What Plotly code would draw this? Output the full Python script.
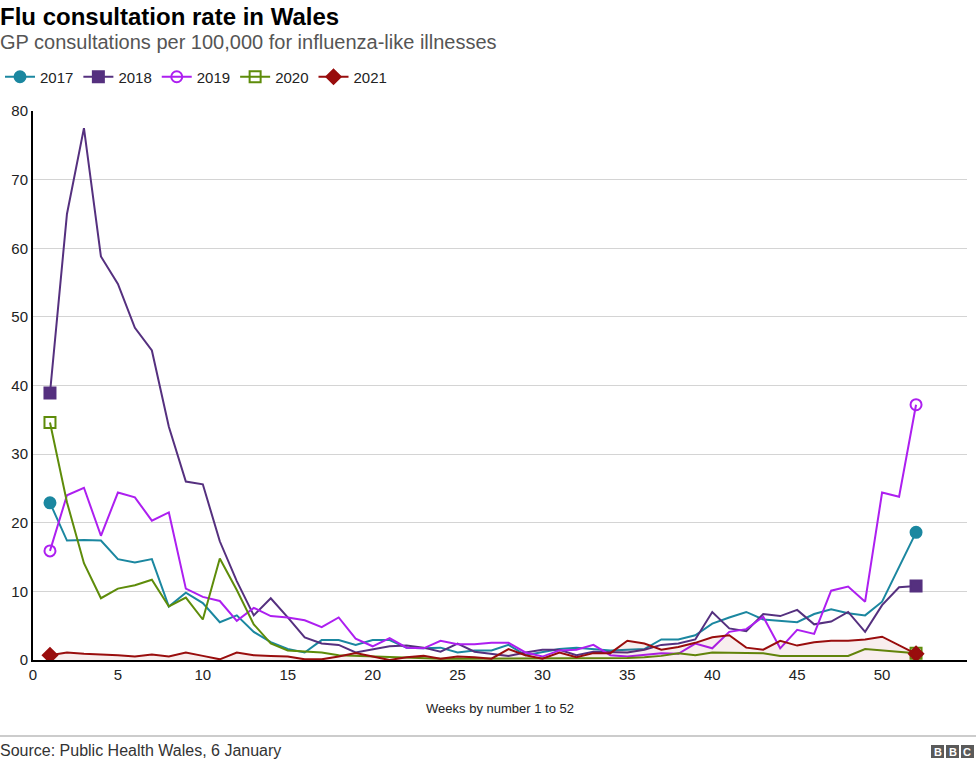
import plotly.graph_objects as go

# weekly GP consultation rates per 100,000 (weeks 1..52)
weeks = list(range(1, 53))

rate_2017 = [22.9, 17.4, 17.5, 17.4, 14.7, 14.2, 14.7, 7.8, 9.8, 8.3,
             5.5, 6.5, 4.1, 2.6, 1.6, 1.1, 2.9, 2.9, 2.2, 2.9,
             2.9, 1.8, 1.7, 1.8, 1.1, 1.4, 1.4, 2.2, 0.7, 1.2,
             1.6, 1.8, 1.6, 1.4, 1.5, 1.6, 3.0, 3.0, 3.6, 5.3,
             6.2, 7.0, 5.9, 5.7, 5.5, 6.7, 7.4, 6.8, 6.5, 8.5,
             13.5, 18.6]
rate_2018 = [38.9, 65.0, 77.5, 58.8, 54.8, 48.4, 45.1, 34.0, 26.0, 25.6,
             17.3, 11.5, 6.5, 9.0, 6.2, 3.3, 2.4, 2.2, 1.1, 1.5,
             2.0, 2.1, 1.8, 1.2, 2.4, 1.2, 0.9, 0.6, 1.1, 1.5,
             1.5, 0.7, 1.2, 1.1, 1.1, 1.5, 2.2, 2.4, 3.0, 7.0,
             4.6, 4.2, 6.7, 6.4, 7.3, 5.2, 5.6, 7.0, 4.1, 8.0,
             10.6, 10.8]
rate_2019 = [15.9, 24.0, 25.1, 18.1, 24.4, 23.7, 20.3, 21.5, 10.4, 9.2,
             8.6, 5.7, 7.6, 6.4, 6.2, 5.8, 4.8, 6.2, 3.1, 2.0,
             3.2, 1.8, 1.7, 2.8, 2.3, 2.3, 2.5, 2.5, 1.1, 0.5,
             1.4, 1.5, 2.2, 0.7, 0.5, 0.7, 1.0, 0.9, 2.4, 1.7,
             4.1, 4.5, 6.3, 1.7, 4.4, 3.8, 10.1, 10.7, 8.5, 24.4,
             23.8, 37.2]
rate_2020 = [34.6, 23.0, 14.1, 9.0, 10.4, 10.9, 11.7, 7.8, 9.1, 5.9,
             14.8, 10.2, 5.2, 2.4, 1.4, 1.2, 1.1, 0.7, 0.6, 0.5,
             0.4, 0.3, 0.3, 0.2, 0.2, 0.2, 0.2, 0.2, 0.2, 0.2,
             0.2, 0.2, 0.2, 0.2, 0.3, 0.4, 0.6, 1.0, 0.7, 1.1,
             1.1, 1.1, 1.0, 0.6, 0.6, 0.6, 0.6, 0.6, 1.6, 1.4,
             1.1, 1.0]
rate_2021 = [0.7, 1.1, 0.9, 0.85, 0.7, 0.5, 0.8, 0.5, 1.1, 0.6,
             0.1, 1.1, 0.7, 0.6, 0.5, 0.1, 0.1, 0.5, 1.0, 0.5,
             0.0, 0.4, 0.6, 0.2, 0.5, 0.4, 0.2, 1.6, 0.7, 0.2,
             1.1, 0.4, 1.0, 1.0, 2.8, 2.4, 1.5, 1.9, 2.5, 3.3,
             3.6, 1.8, 1.5, 2.8, 2.1, 2.6, 2.8, 2.8, 3.0, 3.4,
             2.2, 0.9]

years = ["2017", "2018", "2019", "2020", "2021"]
series = [rate_2017, rate_2018, rate_2019, rate_2020, rate_2021]
colors = ["#1b87a0", "#55307f", "#ad1ff0", "#5e8c0a", "#990d0d"]
symbols = ["circle", "square", "circle-open", "square-open", "diamond"]

font = "Liberation Sans, Arial, sans-serif"
W, H = 976, 764
L, R, T, B = 33, 9, 111, 104
PW, PH = W - L - R, H - T - B


def px(x):
    return (x - L) / PW


def py(y):
    return (H - B - y) / PH


fig = go.Figure()

for year, vals, col, sym in zip(years, series, colors, symbols):
    # the line itself (no legend entry)
    fig.add_trace(go.Scatter(
        x=weeks, y=vals, mode="lines", showlegend=False,
        line=dict(color=col, width=2),
        fill="tozeroy" if year == "2021" else None,
        fillcolor="rgba(153,13,13,0.07)" if year == "2021" else None,
        hoverinfo="skip",
    ))
    # markers only on first and last week
    fig.add_trace(go.Scatter(
        x=[weeks[0], weeks[-1]], y=[vals[0], vals[-1]], mode="markers",
        showlegend=False,
        marker=dict(symbol=sym, size=11, color=col,
                    line=dict(color=col, width=2)),
    ))
    # legend entry
    fig.add_trace(go.Scatter(
        x=[None], y=[None], mode="lines+markers", name=year,
        line=dict(color=col, width=2),
        marker=dict(symbol=sym, size=11, color=col,
                    line=dict(color=col, width=2)),
    ))

fig.update_layout(
    width=W, height=H,
    margin=dict(l=L, r=R, t=T, b=B),
    paper_bgcolor="white", plot_bgcolor="white",
    font=dict(family=font, size=14, color="#222222"),
    title=dict(
        text="<b>Flu consultation rate in Wales</b>",
        x=0, xref="container", xanchor="left",
        y=1 - 17 / H, yref="container", yanchor="middle",
        font=dict(size=24, color="#000000"),
    ),
    legend=dict(
        orientation="h", x=-0.056, xanchor="left",
        y=1 - 77 / H, yref="container", yanchor="middle",
        font=dict(size=15, color="#222222"),
        itemwidth=30, tracegroupgap=0,
    ),
    xaxis=dict(
        range=[0, 55], tickvals=[0, 5, 10, 15, 20, 25, 30, 35, 40, 45, 50],
        showgrid=False, zeroline=False, automargin=False,
        showline=True, linecolor="#000000", linewidth=2,
        ticks="", tickfont=dict(size=15, color="#222222"),
        title=dict(text="Weeks by number 1 to 52",
                   font=dict(size=13, color="#222222"), standoff=22),
    ),
    yaxis=dict(
        range=[0, 80], tickvals=[0, 10, 20, 30, 40, 50, 60, 70, 80],
        showgrid=True, gridcolor="#d4d4d4", gridwidth=1, automargin=False,
        zeroline=False, showline=True, linecolor="#000000", linewidth=2,
        ticks="", tickfont=dict(size=15, color="#222222"),
    ),
)

fig.add_annotation(
    text="GP consultations per 100,000 for influenza-like illnesses",
    xref="paper", yref="paper", x=px(-2), y=py(42),
    xanchor="left", yanchor="middle", showarrow=False,
    font=dict(size=20, color="#555555"),
)

# footer rule and source
fig.add_shape(type="line", xref="paper", yref="paper",
              x0=px(0), x1=px(W), y0=py(736), y1=py(736),
              line=dict(color="#999999", width=1))
fig.add_annotation(
    text="Source: Public Health Wales, 6 January",
    xref="paper", yref="paper", x=px(-2), y=py(750),
    xanchor="left", yanchor="middle", showarrow=False,
    font=dict(size=16, color="#333333"),
)

# BBC blocks
for i, letter in enumerate("BBC"):
    x0 = 931 + i * 15
    fig.add_shape(type="rect", xref="paper", yref="paper",
                  x0=px(x0), x1=px(x0 + 13), y0=py(758), y1=py(745),
                  fillcolor="#5a5a5a", line=dict(width=0))
    fig.add_annotation(
        text="<b>" + letter + "</b>", xref="paper", yref="paper",
        x=px(x0 + 6.5), y=py(751.5),
        xanchor="center", yanchor="middle", showarrow=False,
        font=dict(size=11, color="white"),
    )

# page body has a default 8px margin; remove it so the figure fills the window
fig.write_html("out.html", config={"displayModeBar": False},
               post_script="document.body.style.margin='0';")
